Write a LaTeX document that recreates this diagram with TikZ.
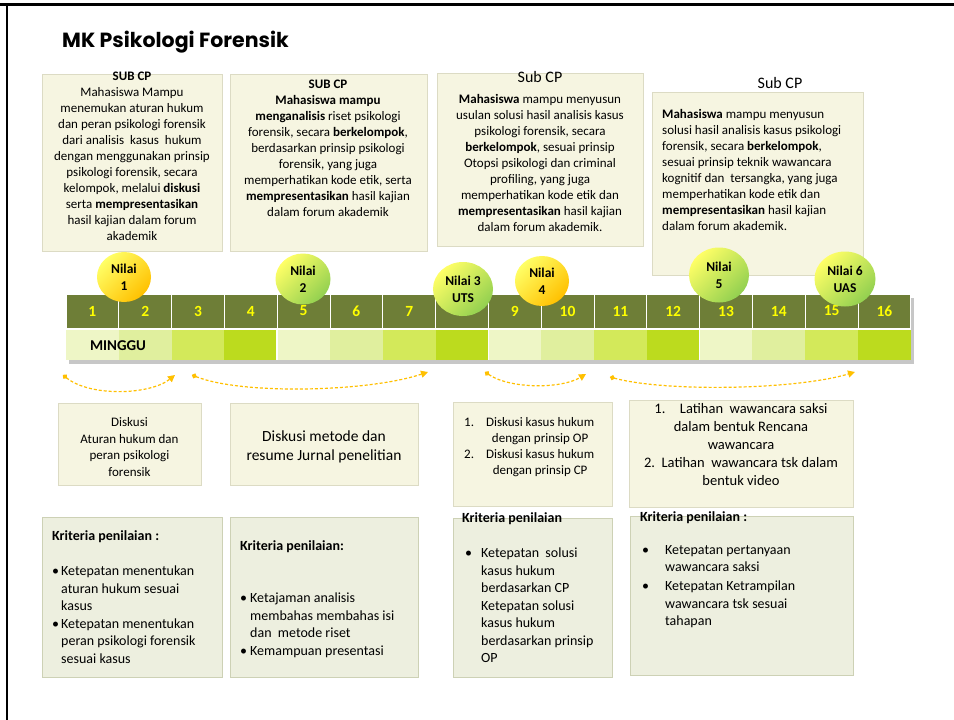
\documentclass[tikz,border=0pt]{standalone}
\usepackage{fontspec}
\setmainfont{Carlito}
\newfontfamily\titlefont{Poppins}
\usetikzlibrary{arrows.meta,shapes.geometric}

\definecolor{cpfill}{HTML}{F6F5E1}
\definecolor{cpline}{HTML}{DCDBC4}
\definecolor{krfill}{HTML}{EDEFDF}
\definecolor{krline}{HTML}{CDD1B5}
\definecolor{weekbg}{HTML}{6E7E37}
\definecolor{weekno}{HTML}{FFFF00}
\definecolor{mg1}{HTML}{EEF6C6}
\definecolor{mg2}{HTML}{E0EF9E}
\definecolor{mg3}{HTML}{D3E95A}
\definecolor{mg4}{HTML}{BCDB1E}
\definecolor{flowc}{HTML}{FFC000}
\definecolor{nilaiy}{HTML}{FFFF66}
\definecolor{nilaio}{HTML}{FFC000}
\definecolor{nilaig}{HTML}{92D050}

\newcommand{\bul}[1]{\makebox[#1][l]{\textbullet}}
\newcommand{\ind}[1]{\hspace*{#1}}

\begin{document}
\begin{tikzpicture}[x=1pt, y=-1pt,
    cpbox/.style={draw=cpline, fill=cpfill, rectangle, anchor=north west, inner sep=0},
    krbox/.style={draw=krline, fill=krfill, rectangle, anchor=north west, inner sep=0},
    txt/.style={inner sep=0, font=\fontsize{13}{16}\selectfont},
    krtxt/.style={inner sep=0, anchor=north west, align=left, font=\fontsize{14}{17.5}\selectfont},
    weekcell/.style={fill=weekbg, draw=white, line width=1pt, minimum width=52.8pt,
      minimum height=34pt, inner sep=0, text=weekno, font=\fontsize{15.5}{18}\selectfont\bfseries},
    mgcell/.style={minimum width=52.8pt, minimum height=30pt, inner sep=0},
    nilai/.style={ellipse, inner sep=0, align=center, font=\fontsize{13.5}{17}\selectfont\bfseries},
    nilaiorange/.style={nilai, top color=nilaiy, bottom color=nilaio, shading angle=45},
    nilaigreen/.style={nilai, top color=nilaiy, bottom color=nilaig, shading angle=45},
    flow/.style={draw=flowc, line width=1.2pt, dash pattern=on 3pt off 2pt,
      {Circle[length=5pt]}-{Triangle[length=7pt,width=7pt]}}]
  \useasboundingbox (0,0) rectangle (954,720);
  \fill[white] (0,0) rectangle (954,720);
  % frame
  \draw[line width=3pt] (0,4) -- (954,4);
  \draw[line width=2pt] (7,4) -- (7,720);

  \node[anchor=west, inner sep=0, font=\titlefont\fontsize{20.5}{22}\selectfont\bfseries] (title) at (62,42) {MK Psikologi Forensik};

  % sub CP boxes
  \node[cpbox, minimum width=180pt, minimum height=177pt] (cp1) at (42,74) {};
  \node[txt, anchor=north, align=center] (cp1txt) at (132,72) {\textbf{SUB CP}\\
    Mahasiswa Mampu\\
    menemukan aturan hukum\\
    dan peran psikologi forensik\\
    dari analisis\ \ kasus\ \ hukum\\
    dengan menggunakan prinsip\\
    psikologi forensik, secara\\
    kelompok, melalui \textbf{diskusi}\\
    serta \textbf{mempresentasikan}\\
    hasil kajian dalam forum\\
    akademik};

  \node[cpbox, minimum width=197pt, minimum height=177pt] (cp2) at (230,74) {};
  \node[txt, anchor=north, align=center] (cp2txt) at (328,80) {\textbf{SUB CP}\\
    \textbf{Mahasiswa mampu}\\
    \textbf{menganalisis} riset psikologi\\
    forensik, secara \textbf{berkelompok},\\
    berdasarkan prinsip psikologi\\
    forensik, yang juga\\
    memperhatikan kode etik, serta\\
    \textbf{mempresentasikan} hasil kajian\\
    dalam forum akademik};

  \node[cpbox, minimum width=206pt, minimum height=173pt] (cp3) at (437,73) {};
  \node[inner sep=0, font=\fontsize{16}{18}\selectfont] (cp3head) at (540,77) {Sub CP};
  \node[txt, anchor=north, align=center] (cp3txt) at (540,94) {\textbf{Mahasiswa} mampu menyusun\\
    usulan solusi hasil analisis kasus\\
    psikologi forensik, secara\\
    \textbf{berkelompok}, sesuai prinsip\\
    Otopsi psikologi dan criminal\\
    profiling, yang juga\\
    memperhatikan kode etik dan\\
    \textbf{mempresentasikan} hasil kajian\\
    dalam forum akademik.};

  \node[cpbox, minimum width=211pt, minimum height=183pt] (cp4) at (652,92) {};
  \node[inner sep=0, font=\fontsize{16}{18}\selectfont] (cp4head) at (780,83) {Sub CP};
  \node[txt, anchor=north west, align=left] (cp4txt) at (662,109) {\textbf{Mahasiswa} mampu menyusun\\
    solusi hasil analisis kasus psikologi\\
    forensik, secara \textbf{berkelompok},\\
    sesuai prinsip teknik wawancara\\
    kognitif dan\ \ tersangka, yang juga\\
    memperhatikan kode etik dan\\
    \textbf{mempresentasikan} hasil kajian\\
    dalam forum akademik.};

  % timeline
  \fill[black!22] (69,298) rectangle (914,364);
  \foreach \i in {1,...,16}
    \node[weekcell] (w\i) at ({66+(\i-0.5)*52.8},311) {\i};
  \foreach \i/\c in {1/mg1,2/mg2,3/mg3,4/mg4,5/mg1,6/mg2,7/mg3,8/mg4,
                     9/mg1,10/mg2,11/mg3,12/mg4,13/mg1,14/mg2,15/mg3,16/mg4}
    \node[mgcell, fill=\c] (m\i) at ({66+(\i-0.5)*52.8},345) {};
  \foreach \k in {4,8,12}
    \draw[white, line width=1.5pt] ({66+\k*52.8},330) -- ({66+\k*52.8},360);
  \draw[white, line width=1.5pt] (66,329) -- (911,329);
  \node[inner sep=0, font=\fontsize{15}{18}\selectfont\bfseries] (minggu) at (118,346) {MINGGU};

  % nilai
  \node[nilaiorange, minimum width=54pt, minimum height=50pt] (n1) at (124,277) {Nilai\\1};
  \node[nilaigreen, minimum width=55pt, minimum height=51pt] (n2) at (303,279) {Nilai\\2};
  \node[nilaigreen, minimum width=60pt, minimum height=54pt] (n3) at (463,289) {Nilai 3\\UTS};
  \node[nilaiorange, minimum width=54pt, minimum height=50pt] (n4) at (542,281) {Nilai\\4};
  \node[nilaigreen, minimum width=60pt, minimum height=55pt] (n5) at (719,275) {Nilai\\5};
  \node[nilaigreen, minimum width=61pt, minimum height=55pt] (n6) at (845,279) {Nilai 6\\UAS};

  % flow arrows
  \coordinate (f1s) at (63,375);  \coordinate (f1e) at (175,375);
  \coordinate (f2s) at (192,375); \coordinate (f2e) at (428,372);
  \coordinate (f3s) at (485,372); \coordinate (f3e) at (586,374);
  \coordinate (f4s) at (610,377); \coordinate (f4e) at (855,372);
  \draw[flow] (f1s) .. controls +(27,22) and +(-25,20) .. (f1e);
  \draw[flow] (f2s) .. controls +(50,20) and +(-60,20) .. (f2e);
  \draw[flow] (f3s) .. controls +(25,17) and +(-25,15) .. (f3e);
  \draw[flow] (f4s) .. controls +(55,15) and +(-60,18) .. (f4e);

  % activities
  \node[cpbox, minimum width=143pt, minimum height=82pt] (ak1) at (58,403) {};
  \node[align=center, inner sep=0, font=\fontsize{13}{16.5}\selectfont] (ak1txt) at (129.5,447) {Diskusi\\
    Aturan hukum dan\\
    peran psikologi\\
    forensik};
  \node[cpbox, minimum width=188pt, minimum height=82pt] (ak2) at (230,403) {};
  \node[align=center, inner sep=0, font=\fontsize{15.5}{19}\selectfont] (ak2txt) at (324,447) {Diskusi metode dan\\
    resume Jurnal penelitian};
  \node[cpbox, minimum width=159pt, minimum height=104pt] (ak3) at (453,402) {};
  \node[inner sep=0, anchor=north west, font=\fontsize{13}{16}\selectfont] (ak3txt) at (464,415) {%
    \begin{tabular}{@{}l@{\hspace{12pt}}c@{}}
      1. & Diskusi kasus hukum\\
         & dengan prinsip OP\\
      2. & Diskusi kasus hukum\\
         & dengan prinsip CP
    \end{tabular}};
  \node[cpbox, minimum width=224pt, minimum height=107pt] (ak4) at (629,400) {};
  \node[align=center, anchor=north, inner sep=0, font=\fontsize{14.5}{18}\selectfont] (ak4txt) at (741,403) {%
    1.\quad Latihan\ \ wawancara saksi\\
    dalam bentuk Rencana\\
    wawancara\\
    2.\ \ Latihan\ \ wawancara tsk dalam\\
    bentuk video};

  % kriteria
  \node[krbox, minimum width=180pt, minimum height=160pt] (kr1) at (42,517) {};
  \node[krtxt, font=\fontsize{14}{17.5}\selectfont\bfseries] (kr1head) at (52,530) {Kriteria penilaian :};
  \node[krtxt] (kr1list) at (52,566) {\bul{9pt}Ketepatan menentukan\\
    \ind{9pt}aturan hukum sesuai\\
    \ind{9pt}kasus\\
    \bul{9pt}Ketepatan menentukan\\
    \ind{9pt}peran psikologi forensik\\
    \ind{9pt}sesuai kasus};

  \node[krbox, minimum width=188pt, minimum height=160pt] (kr2) at (230,517) {};
  \node[krtxt, font=\fontsize{14}{17.5}\selectfont\bfseries] (kr2head) at (240,540) {Kriteria penilaian:};
  \node[krtxt] (kr2list) at (240,593) {\bul{10pt}Ketajaman analisis\\
    \ind{10pt}membahas membahas isi\\
    \ind{10pt}dan\ \ metode riset\\
    \bul{10pt}Kemampuan presentasi};

  \node[krbox, minimum width=159pt, minimum height=159pt] (kr3) at (453,518) {};
  \node[krtxt, font=\fontsize{14}{17.5}\selectfont\bfseries] (kr3head) at (462,512) {Kriteria penilaian};
  \node[krtxt] (kr3list) at (465,548) {\bul{16pt}Ketepatan\ \ solusi\\
    \ind{16pt}kasus hukum\\
    \ind{16pt}berdasarkan CP\\
    \ind{16pt}Ketepatan solusi\\
    \ind{16pt}kasus hukum\\
    \ind{16pt}berdasarkan prinsip\\
    \ind{16pt}OP};

  \node[krbox, minimum width=223pt, minimum height=159pt] (kr4) at (630,516) {};
  \node[krtxt, font=\fontsize{14}{17.5}\selectfont\bfseries] (kr4head) at (640,511) {Kriteria penilaian :};
  \node[krtxt] (kr4list) at (642,545) {\bul{23pt}Ketepatan pertanyaan\\
    \ind{23pt}wawancara saksi\\[1.5pt]
    \bul{23pt}Ketepatan Ketrampilan\\
    \ind{23pt}wawancara tsk sesuai\\
    \ind{23pt}tahapan};
\end{tikzpicture}
\end{document}
